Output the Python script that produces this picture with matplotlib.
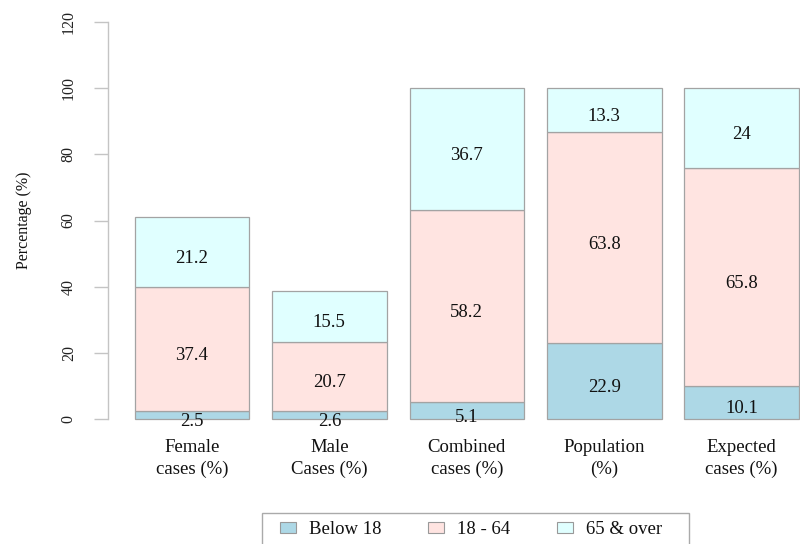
import matplotlib
matplotlib.use("Agg")
import matplotlib.pyplot as plt
from matplotlib.patches import Patch, Rectangle
import numpy as np

categories = ["Female\ncases (%)", "Male\nCases (%)", "Combined\ncases (%)",
              "Population\n(%)", "Expected\ncases (%)"]
series_names = ["Below 18", "18 - 64", "65 & over"]
below18 = [2.5, 2.6, 5.1, 22.9, 10.1]
mid18_64 = [37.4, 20.7, 58.2, 63.8, 65.8]
over65 = [21.2, 15.5, 36.7, 13.3, 24]
value_labels = [
    ["2.5", "2.6", "5.1", "22.9", "10.1"],
    ["37.4", "20.7", "58.2", "63.8", "65.8"],
    ["21.2", "15.5", "36.7", "13.3", "24"],
]
yticks = [0, 20, 40, 60, 80, 100, 120]
colors = ["#ADD8E6", "#FFE4E1", "#E0FFFF"]
edge = "#A3A3A3"

plt.rcParams["font.family"] = ["Liberation Serif", "DejaVu Serif"]

fig = plt.figure(figsize=(8, 5.44), dpi=100)
ax = fig.add_axes([108 / 800, 1 - 435 / 544, (825.6 - 108) / 800, (435 - 6) / 544])

x = 0.2 + 1.2 * np.arange(len(categories)) + 0.5
series = [below18, mid18_64, over65]
bottom = np.zeros(len(categories))
for vals, col, labs in zip(series, colors, value_labels):
    vals = np.array(vals, dtype=float)
    ax.bar(x, vals, width=1.0, bottom=bottom, color=col, edgecolor=edge,
           linewidth=0.9)
    for xi, b, v, lab in zip(x, bottom, vals, labs):
        ax.annotate(lab, (xi, b + v / 2), xytext=(0, -4.6),
                    textcoords="offset points", ha="center", va="center",
                    fontsize=13.5, color="#111111")
    bottom = bottom + vals

ax.set_xlim(-0.032, 6.232)
ax.set_ylim(-4.8, 124.8)
for s in ["top", "right", "bottom"]:
    ax.spines[s].set_visible(False)
ax.spines["left"].set_bounds(0, 120)
ax.spines["left"].set_color("#C4C4C4")
ax.spines["left"].set_linewidth(1.0)

ax.set_yticks(yticks)
ax.set_yticklabels([str(t) for t in yticks], rotation=90, va="center",
                   fontsize=11.5, color="#222222")
ax.tick_params(axis="y", length=10, width=1.0, color="#C4C4C4", pad=12.5)
ax.set_xticks(x)
ax.set_xticklabels(categories, fontsize=13.5, color="#111111", linespacing=1.35)
ax.tick_params(axis="x", length=0, pad=3.0)

ax.set_ylabel("Percentage (%)", fontsize=11.5, color="#111111")
ax.yaxis.set_label_coords(-0.106, 0.5)

handles = [Patch(facecolor=c, edgecolor="#999999", linewidth=0.8) for c in colors]
leg = fig.legend(handles, series_names, loc="center left",
                 bbox_to_anchor=(280 / 800, 1 - 530 / 544), ncol=3,
                 frameon=False, fontsize=13.5, borderpad=0, borderaxespad=0,
                 handlelength=0.85, handleheight=0.53, handletextpad=0.69,
                 columnspacing=2.5)
for t in leg.get_texts():
    t.set_color("#111111")

fig.add_artist(Rectangle((262 / 800, 1 - 560 / 544), 427 / 800, 47 / 544,
                         transform=fig.transFigure, fill=False,
                         edgecolor="#AAAAAA", linewidth=1.0, clip_on=False))

fig.savefig("out.png", dpi=100)
